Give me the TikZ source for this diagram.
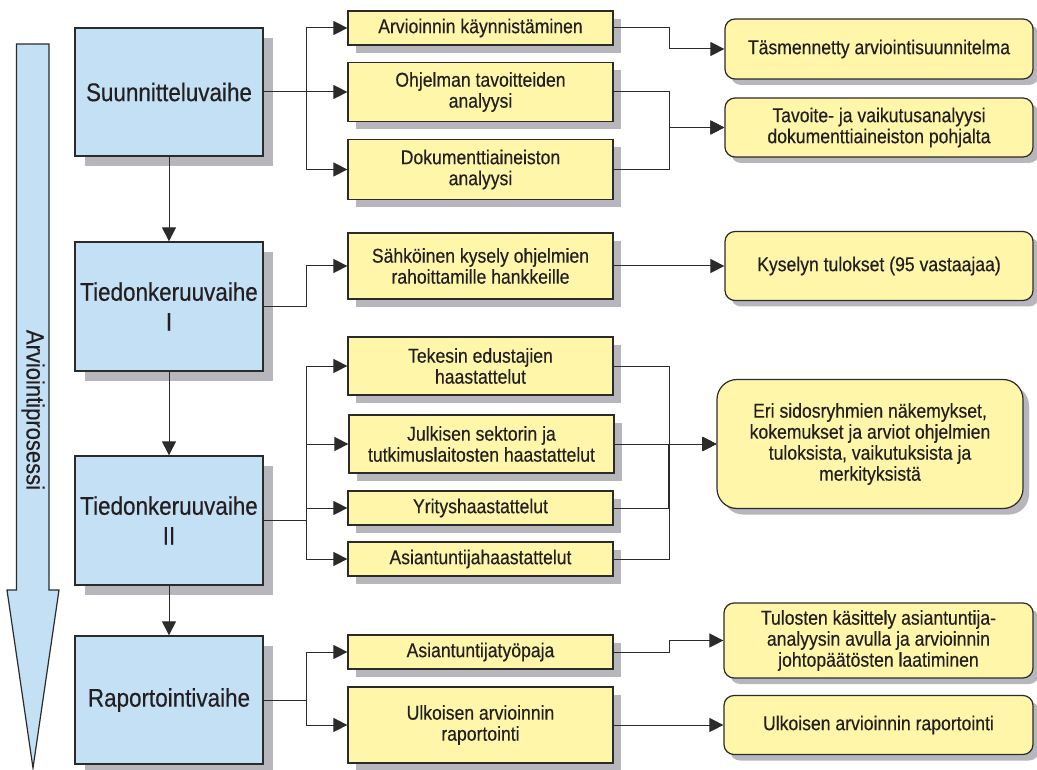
\documentclass[tikz,border=0pt]{standalone}
\usepackage{fontspec}
\setmainfont[FakeStretch=0.88,FakeBold=0.35]{Liberation Sans}
\usetikzlibrary{arrows.meta,shadows}
\definecolor{bluefill}{HTML}{C3E0F4}
\definecolor{yelfill}{HTML}{FFF6A9}
\definecolor{shadowc}{HTML}{B6B6BC}
\definecolor{linec}{HTML}{2B2B2B}
\definecolor{textc}{HTML}{231F20}
\tikzset{
  phase/.style={draw=linec, line width=1.3pt, fill=bluefill, text=textc, align=center,
    minimum width=188pt, minimum height=128pt, inner sep=0pt,
    font=\fontsize{25.5}{30}\selectfont,
    drop shadow={shadow xshift=10pt, shadow yshift=-10pt, fill=shadowc, opacity=1}},
  task/.style={draw=linec, line width=1.2pt, fill=yelfill, text=textc, align=center,
    minimum width=265pt, inner sep=0pt,
    font=\fontsize{20}{21}\selectfont,
    drop shadow={shadow xshift=8pt, shadow yshift=-8pt, fill=shadowc, opacity=1}},
  result/.style={draw=linec, line width=1.2pt, fill=yelfill, text=textc, align=center,
    rounded corners=10pt, minimum width=308pt, inner sep=0pt,
    font=\fontsize{20}{21}\selectfont,
    drop shadow={shadow xshift=6pt, shadow yshift=-6pt, fill=shadowc, opacity=1}},
  conn/.style={draw=linec, line width=1pt},
  arr/.style={conn, -{Triangle[length=14pt,width=14pt]}},
}
\begin{document}
\begin{tikzpicture}[x=1pt,y=-1pt]
\useasboundingbox (0,0) rectangle (1037,770);
% big process arrow
\draw[line width=1.2pt, draw=linec, fill=bluefill]
  (16.5,44) -- (49,44) -- (49,590) -- (59,590) -- (33,768) -- (7,590) -- (16.5,590) -- cycle;
\node[rotate=-90, text=textc, font=\fontsize{25}{30}\selectfont] (proc) at (33,410) {Arviointiprosessi};

% phases
\node[phase] (b1) at (169,92) {Suunnitteluvaihe};
\node[phase, minimum height=129pt] (b2) at (169,306.5) {Tiedonkeruuvaihe\\I};
\node[phase, minimum height=129pt] (b3) at (169,520.5) {Tiedonkeruuvaihe\\II};
\node[phase] (b4) at (169,700) {Raportointivaihe};

% tasks
\node[task, minimum height=34pt] (y1) at (480.5,28) {Arvioinnin käynnistäminen};
\node[task, minimum height=59pt] (y2) at (480.5,92) {Ohjelman tavoitteiden\\analyysi};
\node[task, minimum height=60pt] (y3) at (480.5,169.5) {Dokumenttiaineiston\\analyysi};
\node[task, minimum height=66pt] (y4) at (480.5,266) {Sähköinen kysely ohjelmien\\rahoittamille hankkeille};
\node[task, minimum height=58pt] (y5) at (480.5,366) {Tekesin edustajien\\haastattelut};
\node[task, minimum height=58pt] (y6) at (481.5,444) {Julkisen sektorin ja\\tutkimuslaitosten haastattelut};
\node[task, minimum height=34pt] (y7) at (480.5,508) {Yrityshaastattelut};
\node[task, minimum height=34pt] (y8) at (480.5,559) {Asiantuntijahaastattelut};
\node[task, minimum height=34pt] (y9) at (480.5,652) {Asiantuntijatyöpaja};
\node[task, minimum height=76pt] (y10) at (480.5,725) {Ulkoisen arvioinnin\\raportointi};

% results
\node[result, minimum height=60pt] (r1) at (879,49) {Täsmennetty arviointisuunnitelma};
\node[result, minimum height=59pt] (r2) at (879,127.5) {Tavoite- ja vaikutusanalyysi\\dokumenttiaineiston pohjalta};
\node[result, minimum height=69pt] (r3) at (879,266) {Kyselyn tulokset (95 vastaajaa)};
\node[result, minimum width=306pt, minimum height=129pt, rounded corners=20pt] (r4) at (870,444)
  {Eri sidosryhmien näkemykset,\\kokemukset ja arviot ohjelmien\\tuloksista, vaikutuksista ja\\merkityksistä};
\node[result, minimum width=309pt, minimum height=75pt] (r5) at (878.5,640.5) {Tulosten käsittely asiantuntija-\\analyysin avulla ja arvioinnin\\johtopäätösten laatiminen};
\node[result, minimum width=309pt, minimum height=59pt] (r6) at (878.5,725) {Ulkoisen arvioinnin raportointi};

% phase to phase
\draw[arr] (b1.south) -- (b2.north);
\draw[arr] (b2.south) -- (b3.north);
\draw[arr] (b3.south) -- (b4.north);

% phase to tasks
\draw[arr] (b1.east) -- ++(43,0) |- (y1.west);
\draw[arr] (b1.east) -- (y2.west);
\draw[arr] (b1.east) -- ++(43,0) |- (y3.west);
\draw[arr] (b2.east) -- ++(43,0) |- (y4.west);
\draw[arr] (b3.east) -- ++(43,0) |- (y5.west);
\draw[arr] (b3.east) -- ++(43,0) |- (y6.west);
\draw[arr] (b3.east) -- ++(43,0) |- (y7.west);
\draw[arr] (b3.east) -- ++(43,0) |- (y8.west);
\draw[arr] (b4.east) -- ++(43,0) |- (y9.west);
\draw[arr] (b4.east) -- ++(43,0) |- (y10.west);

% tasks to results
\draw[arr] (y1.east) -- ++(56,0) |- (r1.west);
\draw[arr] (y2.east) -- ++(56,0) |- (r2.west);
\draw[arr] (y3.east) -- ++(56,0) |- (r2.west);
\draw[arr] (y4.east) -- (r3.west);
\draw[arr] (y5.east) -- ++(56,0) |- (r4.west);
\draw[arr] (y6.east) -- (r4.west);
\draw[arr] (y7.east) -- ++(55,0) |- (r4.west);
\draw[arr] (y8.east) -- ++(56,0) |- (r4.west);
\draw[arr] (y9.east) -- ++(56,0) |- (r5.west);
\draw[arr] (y10.east) -- (r6.west);
\end{tikzpicture}
\end{document}
